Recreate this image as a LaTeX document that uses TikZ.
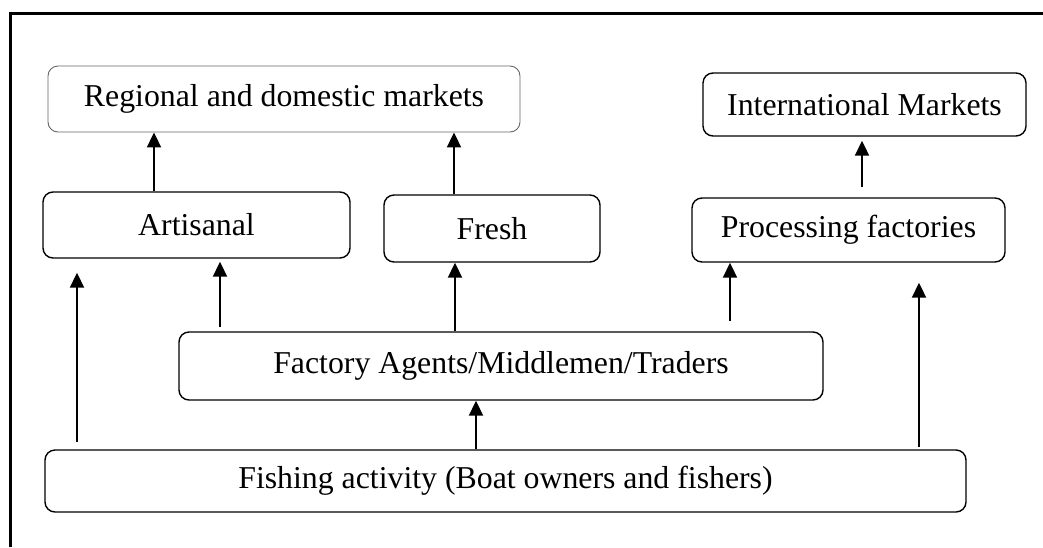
\documentclass[tikz,border=0pt]{standalone}
\usepackage{fontspec}
\setmainfont{Liberation Serif}
\usetikzlibrary{arrows.meta}

\begin{document}
\begin{tikzpicture}[x=1pt, y=-1pt,
    box/.style={draw, line width=1.4pt, rounded corners=10pt, inner sep=0pt,
      font=\fontsize{31.8}{36}\selectfont},
    softbox/.style={box, draw=black!60, line width=0.9pt},
    arr/.style={-{Triangle[length=15pt, width=14pt]}, line width=2pt}]

  \useasboundingbox (0,0) rectangle (1043,547);

  % --- Frame ---
  \draw[line width=2.6pt] (10.5,547) -- (10.5,13.5) -- (1043,13.5);

  % --- Markets ---
  \node[softbox, minimum width=472pt, minimum height=66pt] (regional)
    at (284,99) {Regional and domestic markets};
  \node[box, minimum width=323pt, minimum height=63pt] (intl)
    at (864.5,104.5) {International Markets};

  % --- Products ---
  \node[box, minimum width=307pt, minimum height=66pt] (artisanal)
    at (196.5,225) {Artisanal};
  \node[box, minimum width=216pt, minimum height=67pt] (fresh)
    at (492,228.5) {Fresh};
  \node[box, minimum width=313pt, minimum height=64pt] (processing)
    at (848.5,230) {Processing factories};

  % --- Traders and fishers ---
  \node[box, minimum width=644pt, minimum height=68pt] (agents)
    at (501,366) {Factory Agents/Middlemen/Traders};
  \node[box, minimum width=921pt, minimum height=62pt] (fishing)
    at (505.5,481) {Fishing activity (Boat owners and fishers)};

  % --- Flows to markets ---
  \draw[arr] ([xshift=-42.5pt]artisanal.north)
    -- ([xshift=-42.5pt]artisanal.north |- regional.south);
  \draw[arr] ([xshift=-38pt]fresh.north)
    -- ([xshift=-38pt]fresh.north |- regional.south);
  \draw[arr, shorten <=10pt, shorten >=4pt] ([xshift=13.5pt]processing.north)
    -- ([xshift=13.5pt]processing.north |- intl.south);

  % --- Flows from traders ---
  \draw[arr, shorten <=4pt, shorten >=3pt] ([xshift=-281pt]agents.north)
    -- ([xshift=-281pt]agents.north |- artisanal.south);
  \draw[arr] ([xshift=-46pt]agents.north)
    -- ([xshift=-46pt]agents.north |- fresh.south);
  \draw[arr, shorten <=10pt] ([xshift=229pt]agents.north)
    -- ([xshift=229pt]agents.north |- processing.south);

  % --- Flows from fishing ---
  \draw[arr, shorten <=7pt, shorten >=14pt] ([xshift=-428.5pt]fishing.north)
    -- ([xshift=-428.5pt]fishing.north |- artisanal.south);
  \draw[arr] ([xshift=-29.5pt]fishing.north)
    -- ([xshift=-29.5pt]fishing.north |- agents.south);
  \draw[arr, shorten <=2pt, shorten >=20pt] ([xshift=413.5pt]fishing.north)
    -- ([xshift=413.5pt]fishing.north |- processing.south);

\end{tikzpicture}
\end{document}
